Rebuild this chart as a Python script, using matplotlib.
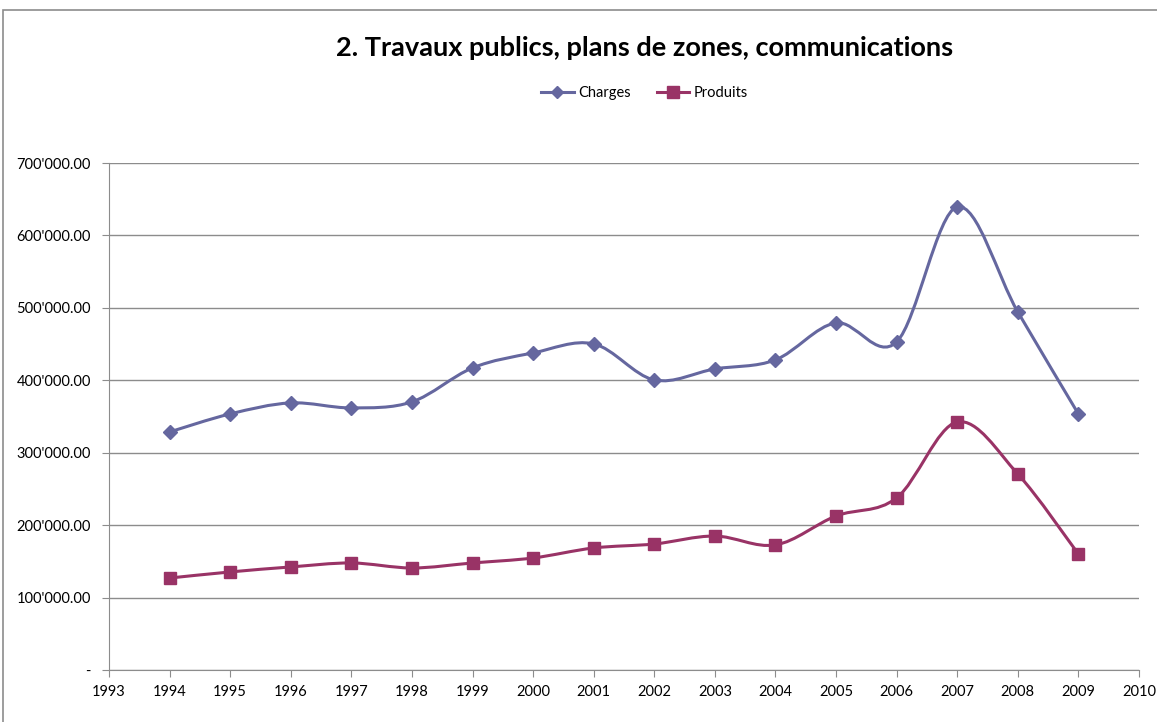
import numpy as np
import matplotlib.pyplot as plt
from matplotlib.path import Path
from matplotlib.patches import PathPatch, Rectangle
from matplotlib.lines import Line2D
from matplotlib.ticker import FuncFormatter

plt.rcParams['font.family'] = ['Lato', 'DejaVu Sans']

# donnees
annees = [1994, 1995, 1996, 1997, 1998, 1999, 2000, 2001,
          2002, 2003, 2004, 2005, 2006, 2007, 2008, 2009]
charges = [328700, 353600, 368800, 361900, 370200, 417100, 437800, 450300,
           400500, 415700, 428200, 479300, 453000, 639500, 494500, 353600]
produits = [127000, 135400, 142300, 147800, 140900, 147800, 154700, 168500,
            174000, 185000, 172700, 212700, 237600, 342500, 270700, 160200]

col_charges = '#65679f'
col_produits = '#993366'


def courbe_lissee(x, y):
    # lissage type Excel : bezier cubique (Catmull-Rom)
    x = np.asarray(x, float)
    y = np.asarray(y, float)
    pts = np.column_stack([x, y])
    verts = [pts[0]]
    codes = [Path.MOVETO]
    n = len(pts)
    for i in range(n - 1):
        p0 = pts[i - 1] if i > 0 else pts[i]
        p1 = pts[i]
        p2 = pts[i + 1]
        p3 = pts[i + 2] if i + 2 < n else pts[i + 1]
        c1 = p1 + (p2 - p0) / 6
        c2 = p2 - (p3 - p1) / 6
        verts += [c1, c2, p2]
        codes += [Path.CURVE4] * 3
    return Path(verts, codes)


fig = plt.figure(figsize=(11.57, 7.22), dpi=100)
ax = fig.add_axes([0.0942, 0.072, 0.8902, 0.7022])

# cadre du graphique
fig.patches.append(Rectangle((3 / 1157, -0.01), 1.1, 1 - 10 / 722 + 0.01,
                             transform=fig.transFigure, fill=False,
                             edgecolor='#8c8c8c', linewidth=1.2))

for y, col, mk, ms, lab in [(charges, col_charges, 'D', 7, 'Charges'),
                            (produits, col_produits, 's', 9, 'Produits')]:
    ax.add_patch(PathPatch(courbe_lissee(annees, y), facecolor='none',
                           edgecolor=col, linewidth=2.2, zorder=3))
    ax.plot(annees, y, linestyle='none', marker=mk, markersize=ms,
            color=col, zorder=4, label=lab)

ax.set_xlim(1993, 2010)
ax.set_ylim(0, 700000)
ax.set_xticks(range(1993, 2011))
ax.set_yticks(range(0, 700001, 100000))


def fmt(v, pos):
    if v == 0:
        return '-'
    return "{:,.2f}".format(v).replace(',', "'")


ax.yaxis.set_major_formatter(FuncFormatter(fmt))
ax.grid(axis='y', color='#8c8c8c', linewidth=1)
ax.set_axisbelow(True)
for s in ['top', 'right']:
    ax.spines[s].set_visible(False)
for s in ['left', 'bottom']:
    ax.spines[s].set_color('#8c8c8c')
ax.tick_params(axis='both', colors='#8c8c8c', labelcolor='black',
               labelsize=10.5, length=5)
ax.tick_params(axis='y', pad=8)
ax.tick_params(axis='x', pad=6)

fig.text(0.557, 0.933, '2. Travaux publics, plans de zones, communications',
         ha='center', va='center', fontsize=19.5, fontweight='bold')

handles = [Line2D([], [], color=col_charges, marker='D', markersize=6, lw=2.2),
           Line2D([], [], color=col_produits, marker='s', markersize=8, lw=2.2)]
fig.legend(handles, ['Charges', 'Produits'], loc='center',
           bbox_to_anchor=(0.557, 0.871), ncol=2, frameon=False,
           fontsize=10.5, handlelength=2.2, columnspacing=1.8, handletextpad=0.3)

fig.savefig('out.png', dpi=100)
